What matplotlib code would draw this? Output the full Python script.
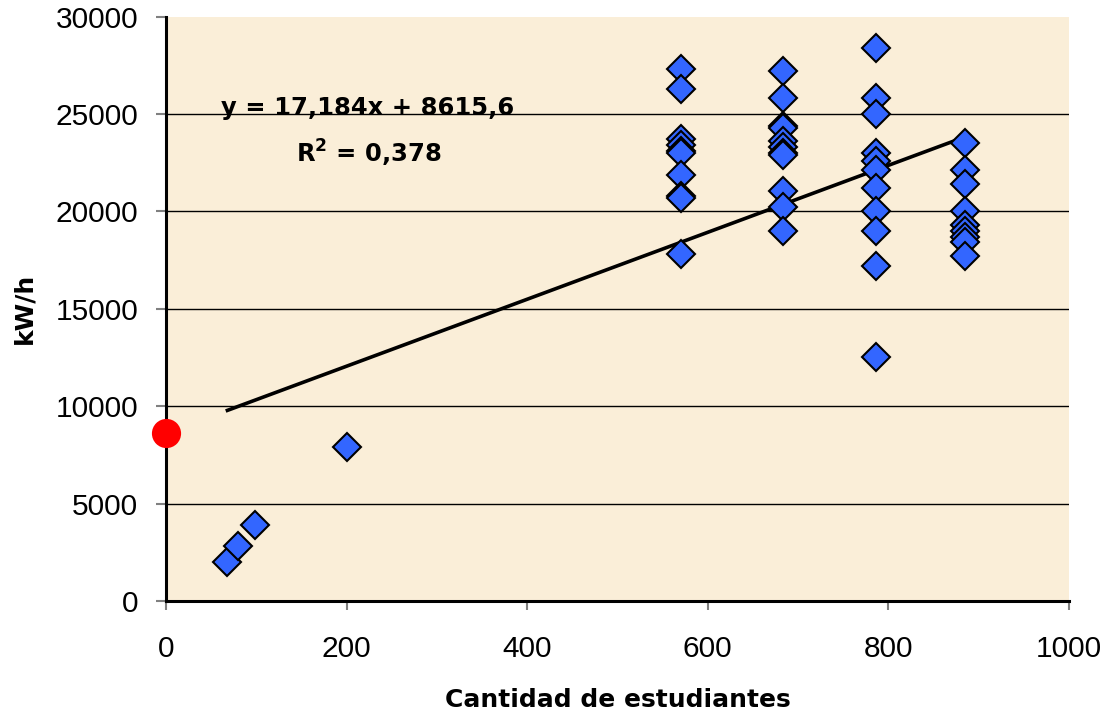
import matplotlib
matplotlib.use("Agg")
import matplotlib.pyplot as plt
import numpy as np

plt.rcParams['font.family'] = ['Liberation Sans', 'DejaVu Sans']
plt.rcParams['mathtext.fontset'] = 'dejavusans'

# Data
x_570 = [570] * 10
y_570 = [27300, 26300, 23700, 23400, 23100, 23000, 21850, 20800, 20700, 17800]
x_683 = [683] * 11
y_683 = [27200, 25800, 24400, 24300, 23600, 23300, 23000, 22900, 21050, 20200, 19000]
x_786 = [786] * 11
y_786 = [28400, 25800, 25000, 23000, 22600, 22100, 21200, 20000, 19000, 17200, 12500]
x_885 = [885] * 9
y_885 = [23500, 22100, 21400, 20000, 19300, 19000, 18700, 18450, 17700]
x_small = [68, 80, 99, 200]
y_small = [2000, 2800, 3900, 7900]

x_all = x_small + x_570 + x_683 + x_786 + x_885
y_all = y_small + y_570 + y_683 + y_786 + y_885

slope = 17.184
intercept = 8615.6
r2 = 0.378
trend_x = [68, 885]

x_ticks = [0, 200, 400, 600, 800, 1000]
y_ticks = [0, 5000, 10000, 15000, 20000, 25000, 30000]

fig = plt.figure(figsize=(11.12, 7.2), dpi=100)
ax = fig.add_axes([0.1493, 0.1653, 0.8120, 0.8117])
ax.set_facecolor('#FAEED8')

for yt in y_ticks[1:-1]:
    ax.axhline(yt, color='black', linewidth=1.0, zorder=1)

tx = np.array(trend_x, dtype=float)
ax.plot(tx, slope * tx + intercept, color='black', linewidth=2.6, zorder=3)

ax.plot(x_all, y_all, linestyle='none', marker='D', markersize=14,
        markerfacecolor='#3366FF', markeredgecolor='black', markeredgewidth=1.5, zorder=4)

ax.plot([0], [intercept], linestyle='none', marker='o', markersize=21,
        markerfacecolor='#FF0000', markeredgecolor='none', zorder=5, clip_on=False)

def fmt(v, d):
    return f"{v:.{d}f}".replace('.', ',')

bold = dict(family='DejaVu Sans', fontweight='bold', fontsize=17.5)
ax.text(223, 24950, f"y = {fmt(slope, 3)}x + {fmt(intercept, 1)}",
        ha='center', va='baseline', zorder=6, **bold)
ax.text(225, 22500, "R$^{\\mathbf{2}}$ = " + fmt(r2, 3),
        ha='center', va='baseline', zorder=6, **bold)

ax.set_xlim(0, 1000)
ax.set_ylim(0, 30000)
ax.set_xticks(x_ticks)
ax.set_yticks(y_ticks)
ax.tick_params(axis='both', direction='out', width=1.5, color='#808080', labelsize=21.5)
ax.tick_params(axis='y', length=7, pad=13)
ax.tick_params(axis='x', length=6.5, pad=18)
for s in ['top', 'right']:
    ax.spines[s].set_visible(False)
for s in ['left', 'bottom']:
    ax.spines[s].set_linewidth(2.2)
    ax.spines[s].set_color('black')

ax.set_xlabel('Cantidad de estudiantes', family='DejaVu Sans', fontsize=18,
              fontweight='bold', labelpad=18)
ax.set_ylabel('kW/h', family='DejaVu Sans', fontsize=18, fontweight='bold', labelpad=14)

fig.savefig('out.png', dpi=100)
